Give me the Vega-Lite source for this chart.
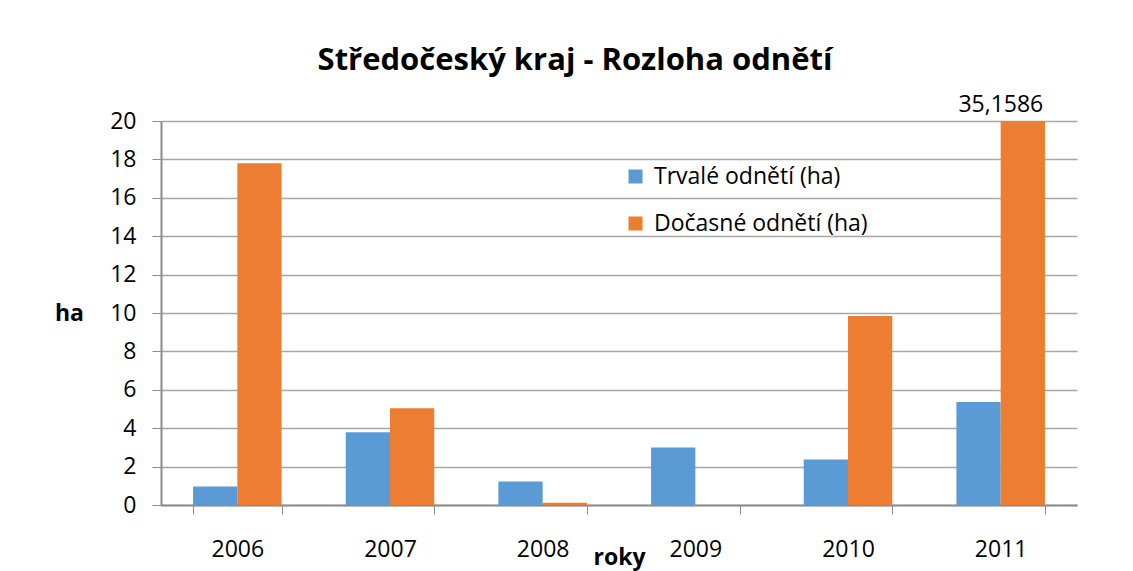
{
  "$schema": "https://vega.github.io/schema/vega-lite/v6.json",
  "width": 916,
  "height": 384,
  "autosize": {"type": "none"},
  "padding": {"left": 161, "top": 121, "right": 56, "bottom": 66},
  "background": "white",
  "config": {
    "font": "Open Sans",
    "view": {"stroke": null},
    "locale": {
      "number": {"decimal": ",", "thousands": " ", "grouping": [3], "currency": ["", " Kč"]}
    }
  },
  "title": {
    "text": "Středočeský kraj - Rozloha odnětí",
    "font": "Open Sans",
    "fontSize": 31,
    "fontWeight": "bold",
    "color": "#000000",
    "anchor": "middle",
    "frame": "group",
    "dx": -44,
    "offset": 17
  },
  "data": {
    "values": [
      {"rok": "2006", "typ": "Trvalé odnětí (ha)", "ha": 0.97},
      {"rok": "2006", "typ": "Dočasné odnětí (ha)", "ha": 17.8},
      {"rok": "2007", "typ": "Trvalé odnětí (ha)", "ha": 3.79},
      {"rok": "2007", "typ": "Dočasné odnětí (ha)", "ha": 5.04},
      {"rok": "2008", "typ": "Trvalé odnětí (ha)", "ha": 1.22},
      {"rok": "2008", "typ": "Dočasné odnětí (ha)", "ha": 0.12},
      {"rok": "2009", "typ": "Trvalé odnětí (ha)", "ha": 3.0},
      {"rok": "2009", "typ": "Dočasné odnětí (ha)", "ha": 0},
      {"rok": "2010", "typ": "Trvalé odnětí (ha)", "ha": 2.37},
      {"rok": "2010", "typ": "Dočasné odnětí (ha)", "ha": 9.84},
      {"rok": "2011", "typ": "Trvalé odnětí (ha)", "ha": 5.36},
      {"rok": "2011", "typ": "Dočasné odnětí (ha)", "ha": 35.1586}
    ]
  },
  "encoding": {
    "x": {
      "field": "rok",
      "type": "nominal",
      "scale": {"paddingInner": 0.42, "paddingOuter": 0.21},
      "axis": {
        "title": "roky",
        "labelAngle": 0,
        "labelFont": "Open Sans",
        "labelFontSize": 23,
        "labelColor": "#000000",
        "labelBaseline": "alphabetic",
        "labelPadding": 42,
        "tickBand": "extent",
        "tickSize": 9,
        "tickColor": "#8c8c8c",
        "domainColor": "#8c8c8c",
        "domainWidth": 2,
        "grid": false,
        "titleFont": "Open Sans",
        "titleFontSize": 23,
        "titleFontWeight": "bold",
        "titleColor": "#000000",
        "titleBaseline": "alphabetic",
        "titleX": 458,
        "titleY": 59,
        "titleAnchor": "middle"
      }
    },
    "xOffset": {
      "field": "typ",
      "type": "nominal",
      "sort": ["Trvalé odnětí (ha)", "Dočasné odnětí (ha)"],
      "scale": {"paddingInner": 0, "paddingOuter": 0}
    },
    "y": {
      "field": "ha",
      "type": "quantitative",
      "scale": {"domain": [0, 20], "clamp": true, "nice": false},
      "axis": {
        "title": "ha",
        "values": [0, 2, 4, 6, 8, 10, 12, 14, 16, 18, 20],
        "labelFont": "Open Sans",
        "labelFontSize": 23,
        "labelColor": "#000000",
        "labelPadding": 16,
        "tickSize": 9,
        "tickColor": "#8c8c8c",
        "domainColor": "#8c8c8c",
        "domainWidth": 2,
        "gridColor": "#a6a6a6",
        "gridWidth": 1.5,
        "titleFont": "Open Sans",
        "titleFontSize": 23,
        "titleFontWeight": "bold",
        "titleColor": "#000000",
        "titleAngle": 0,
        "titleAlign": "center",
        "titleBaseline": "middle",
        "titleX": -92,
        "titleY": 192
      }
    }
  },
  "layer": [
    {
      "mark": {"type": "bar"},
      "encoding": {
        "color": {
          "field": "typ",
          "type": "nominal",
          "scale": {
            "domain": ["Trvalé odnětí (ha)", "Dočasné odnětí (ha)"],
            "range": ["#5B9BD5", "#ED7D31"]
          },
          "legend": {
            "title": null,
            "orient": "none",
            "legendX": 463,
            "legendY": 44,
            "padding": 0,
            "symbolType": "square",
            "symbolSize": 196,
            "symbolStrokeWidth": 0,
            "labelFont": "Open Sans",
            "labelFontSize": 23,
            "labelColor": "#000000",
            "labelOffset": 7,
            "rowPadding": 23,
            "labelLimit": 400
          }
        }
      }
    },
    {
      "transform": [{"filter": "datum.ha > 20"}],
      "mark": {
        "type": "text",
        "font": "Open Sans",
        "fontSize": 23,
        "color": "#000000",
        "baseline": "alphabetic",
        "dy": -9,
        "dx": -22
      },
      "encoding": {
        "text": {"field": "ha", "type": "quantitative", "format": ".4f"}
      }
    }
  ]
}
